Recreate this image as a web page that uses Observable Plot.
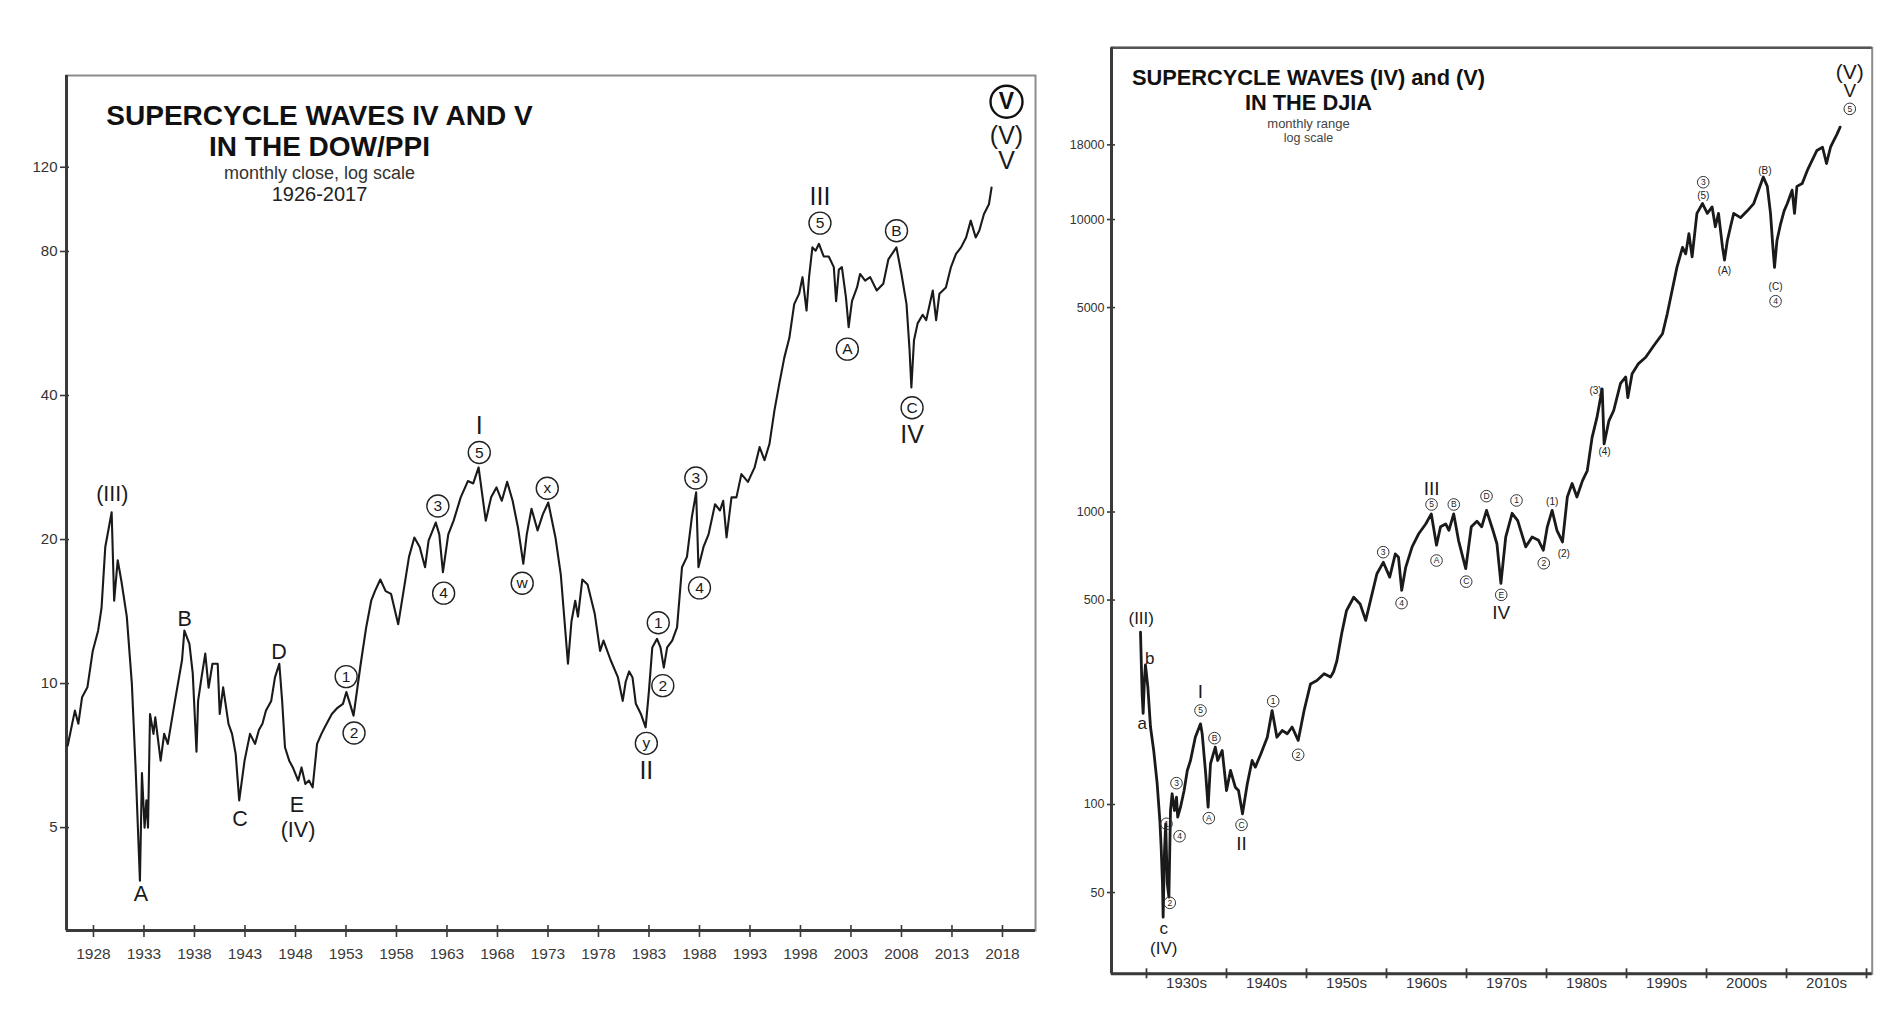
<!DOCTYPE html>
<html><head><meta charset="utf-8">
<script src="https://cdn.jsdelivr.net/npm/d3@7"></script>
<script src="https://cdn.jsdelivr.net/npm/@observablehq/plot@0.6"></script>
<style>
html,body{margin:0;padding:0;background:#fff;}
body{width:1890px;height:1022px;overflow:hidden;position:relative;font-family:"Liberation Sans",Arial,Helvetica,sans-serif;}
#left{position:absolute;left:0;top:0;}
#right{position:absolute;left:1045px;top:0;}
svg{overflow:visible;}
</style></head>
<body><div id="left"></div><div id="right"></div>
<script>
// ---------- LEFT: DOW/PPI monthly close ----------
const dowYear = [1925.45,1926.16,1926.5,1926.87,1927.4,1927.93,1928.46,1928.8,1929.17,1929.8,1930.05,1930.4,1930.76,1931.3,1931.8,1932.17,1932.6,1932.8,1933.06,1933.24,1933.4,1933.6,1933.94,1934.12,1934.65,1935.0,1935.36,1936.07,1936.77,1937.0,1937.5,1937.83,1938.2,1938.36,1938.7,1939.07,1939.4,1939.78,1940.3,1940.5,1940.84,1941.37,1941.72,1942.08,1942.43,1942.96,1943.5,1944.0,1944.38,1944.73,1945.08,1945.6,1945.97,1946.4,1946.68,1946.96,1947.38,1947.74,1948.27,1948.6,1948.98,1949.33,1949.7,1950.14,1950.57,1950.9,1951.6,1952.16,1952.7,1953.04,1953.4,1953.75,1954.46,1955.0,1955.5,1955.87,1956.4,1956.93,1957.46,1958.17,1958.7,1959.24,1959.77,1960.3,1960.83,1961.18,1961.89,1962.24,1962.6,1963.13,1963.66,1964.36,1965.07,1965.6,1966.13,1966.84,1967.37,1967.9,1968.43,1968.96,1969.5,1970.03,1970.56,1970.9,1971.37,1971.97,1972.5,1973.03,1973.74,1974.27,1974.98,1975.33,1975.7,1975.97,1976.4,1976.92,1977.63,1978.16,1978.5,1979.2,1979.93,1980.4,1980.7,1981.04,1981.37,1981.7,1982.2,1982.67,1983.0,1983.33,1983.8,1984.14,1984.47,1984.8,1985.3,1985.78,1986.27,1986.76,1987.25,1987.67,1987.9,1988.4,1988.9,1989.54,1990.03,1990.35,1990.68,1991.17,1991.66,1992.15,1992.8,1993.46,1993.95,1994.44,1994.93,1995.42,1995.9,1996.4,1996.9,1997.38,1997.87,1998.2,1998.6,1998.85,1999.18,1999.5,1999.83,2000.3,2000.8,2001.3,2001.53,2001.8,2002.1,2002.5,2002.77,2003.1,2003.6,2003.9,2004.4,2004.9,2005.55,2006.2,2006.7,2007.5,2008.0,2008.5,2008.8,2008.98,2009.24,2009.6,2010.1,2010.45,2011.1,2011.43,2011.76,2012.4,2012.9,2013.4,2013.9,2014.4,2014.86,2015.35,2015.7,2016.17,2016.66,2016.92];
const dowValue = [7.42,8.78,8.24,9.36,9.82,11.7,12.9,14.4,19.3,22.8,14.9,18.1,16.4,13.8,10.0,6.68,3.87,6.5,5.0,5.7,5.0,8.64,7.85,8.5,6.9,7.85,7.48,9.2,11.2,12.9,12.1,10.5,7.2,9.2,10.3,11.55,9.8,11.0,11.0,8.64,9.82,8.24,7.85,7.13,5.7,6.9,7.85,7.48,8.0,8.24,8.78,9.2,10.3,11.0,9.2,7.36,6.9,6.68,6.27,6.68,6.17,6.27,6.07,7.48,7.85,8.1,8.64,8.9,9.07,9.6,9.07,8.57,11.0,13.1,14.9,15.6,16.5,15.6,15.4,13.3,15.6,18.4,20.2,19.3,17.5,19.9,21.7,20.5,17.1,20.5,21.9,24.5,26.5,26.2,28.3,21.9,24.5,25.7,24.1,26.4,24.1,21.2,17.8,20.5,23.2,20.9,22.6,23.9,20.2,16.9,11.0,13.5,14.9,13.8,16.5,16.1,14.0,11.7,12.3,11.2,10.3,9.2,10.1,10.6,10.3,9.07,8.64,8.1,9.67,11.9,12.4,11.9,10.8,11.9,12.3,13.1,17.5,18.4,22.3,25.1,17.5,19.3,20.5,23.7,23.0,24.1,20.2,24.5,24.5,27.4,26.4,28.3,31.2,29.3,31.7,37.2,42.3,48.0,52.8,62.1,65.3,70.7,60.2,70.7,81.6,80.3,83.0,78.1,78.1,74.2,63,73.3,74.2,64.2,55.6,63.0,67.3,71.8,69.5,70.7,66.3,68.5,77,81.6,71.8,62.1,49.8,41.6,52.2,56.6,59.0,57.5,66.3,57.5,65.3,67.3,74.2,79.1,81.6,85.6,92.8,85.6,88.4,95.8,100.4,108.8];

const dowTicksY = [5, 10, 20, 40, 80, 120];
const dowTicksX = [1928,1933,1938,1943,1948,1953,1958,1963,1968,1973,1978,1983,1988,1993,1998,2003,2008,2013,2018];

const dowTitle1 = ["SUPERCYCLE WAVES IV AND V"];
const dowTitle2 = ["IN THE DOW/PPI"];
const dowSub1 = ["monthly close, log scale"];
const dowSub2 = ["1926-2017"];

const dowLetterText = ["(III)","A","B","C","D","E","(IV)"];
const dowLetterYear = [1929.86,1932.69,1937.04,1942.52,1946.38,1948.14,1948.25];
const dowLetterValue = [24.9,3.63,13.65,5.21,11.63,5.58,4.93];

const dowRomanText = ["I","II","III","IV","(V)","V"];
const dowRomanYear = [1966.2,1982.74,1999.93,2009.05,2018.4,2018.4];
const dowRomanValue = [34.6,6.58,103.9,33.0,139.2,123.7];

const dowCircText = ["1","2","3","4","5","w","x","y","1","2","3","4","5","A","B","C"];
const dowCircYear = [1953.02,1953.8,1962.1,1962.67,1966.2,1970.45,1972.93,1982.74,1983.92,1984.37,1987.64,1988.0,1999.93,2002.64,2007.51,2009.05];
const dowCircValue = [10.34,7.88,23.5,15.45,30.4,16.2,25.6,7.5,13.4,9.9,26.9,15.85,91.7,50.0,88.4,37.7];

const dowBigText = ["V"];
const dowBigYear = [2018.4];
const dowBigValue = [164.5];

// ---------- RIGHT: DJIA monthly range ----------
const djiaYear = [1929.25,1929.45,1929.58,1929.75,1929.87,1930.17,1930.5,1930.9,1931.33,1931.67,1931.83,1932.0,1932.08,1932.25,1932.4,1932.6,1932.8,1933.0,1933.2,1933.5,1933.75,1933.9,1934.25,1934.7,1935.1,1935.5,1936.1,1936.75,1936.96,1937.4,1937.7,1938.0,1938.6,1938.9,1939.46,1940.0,1940.5,1941.1,1941.5,1942.0,1942.6,1943.2,1943.6,1944.3,1945.1,1945.7,1946.3,1946.96,1947.6,1948.2,1948.96,1949.7,1950.5,1951.3,1952.2,1953.0,1953.4,1953.8,1954.4,1955.0,1955.9,1956.7,1957.4,1958.0,1958.8,1959.6,1960.4,1961.1,1961.5,1961.9,1962.4,1963.2,1964.0,1964.9,1965.6,1966.25,1966.75,1967.4,1967.8,1968.4,1969.0,1969.9,1970.6,1971.3,1971.9,1972.5,1973.3,1973.8,1974.3,1974.9,1975.7,1976.4,1977.4,1978.2,1979.0,1979.6,1980.1,1980.7,1981.3,1982.0,1982.6,1983.2,1983.8,1984.5,1985.1,1985.7,1986.3,1986.96,1987.2,1987.8,1988.4,1989.25,1989.9,1990.16,1990.7,1991.5,1992.4,1993.4,1994.5,1995.1,1995.7,1996.3,1997.0,1997.4,1997.8,1998.2,1998.8,1999.5,2000.1,2000.7,2001.1,2001.5,2002.0,2002.25,2002.6,2003.0,2003.4,2004.25,2005.1,2005.9,2006.5,2007.1,2007.6,2008.0,2008.3,2008.5,2008.8,2009.25,2009.7,2010.1,2010.7,2011.0,2011.3,2011.96,2012.6,2013.2,2013.8,2014.5,2015.0,2015.5,2015.9,2016.3,2016.7];
const djiaValue = [388,240,205,270,300,252,184,153,118,88,71.5,53.6,41.2,69.6,85.9,53.6,48.2,95.4,108.8,95.4,105.9,90.5,97.9,111.6,130.7,141.4,169.8,188.7,174.6,127.3,97.9,137.8,157,141.4,153,111.6,130.7,114.6,111.6,92.9,117.7,141.4,134.2,149.1,169.8,209.5,169.8,179,174.6,184,165.6,209.5,258.4,265.6,280,272.6,285,310,384,460,511,485,426,499,615,673,599,719,700,540,647,760,841,910,985,770,890,910,866,985,800,640,890,930,890,1013,866,779,570,821,990,935,760,821,800,740,890,1013,866,790,1125,1251,1125,1280,1386,1800,2101,2637,1710,2050,2224,2752,2895,2459,2967,3217,3380,3700,4070,4770,5720,6860,8030,7630,8950,7450,10500,11340,10500,11040,9450,10500,8030,7270,8460,9450,10500,10150,10710,11340,12600,13980,12980,10500,8030,6860,8460,9630,10710,11340,12600,10500,12980,13280,14720,15930,17230,17670,15540,17670,18600,19560,20700];

const djiaTicksY = [50, 100, 500, 1000, 5000, 10000, 18000];
const djiaDecadeTicks = [1930,1940,1950,1960,1970,1980,1990,2000,2010,2020];
const djiaDecadeLabels = ["1930s","1940s","1950s","1960s","1970s","1980s","1990s","2000s","2010s"];
const djiaDecadeCenters = [1935,1945,1955,1965,1975,1985,1995,2005,2015];

const djiaTitle1 = ["SUPERCYCLE WAVES (IV) and (V)"];
const djiaTitle2 = ["IN THE DJIA"];
const djiaSub1 = ["monthly range"];
const djiaSub2 = ["log scale"];

const djiaLetterText = ["(III)","b","a","c","(IV)"];
const djiaLetterYear = [1929.34,1930.41,1929.46,1932.16,1932.16];
const djiaLetterValue = [431,315,188.8,37.6,32.1];

const djiaRomanText = ["I","II","III","IV","V"];
const djiaRomanYear = [1936.75,1941.88,1965.63,1974.34,2017.91];
const djiaRomanValue = [242,73.4,1200,452,27600];

const djiaTopText = ["(V)"];
const djiaTopYear = [2017.91];
const djiaTopValue = [31880];

const djiaCircText = ["1","2","3","4","5","B","A","C","1","2","3","4","5","A","B","C","D","E","1","2","3","4","5"];
const djiaCircYear = [1932.5,1932.91,1933.75,1934.13,1936.75,1938.5,1937.79,1941.88,1945.84,1948.96,1959.59,1961.88,1965.63,1966.25,1968.41,1969.96,1972.5,1974.34,1976.25,1979.66,1999.59,2008.63,2017.91];
const djiaCircValue = [85.9,46.1,118.3,77.9,209.6,168.6,89.8,85.2,225.5,147.9,729,488,1061,682.5,1061,578,1133,521,1095,668,13413,5256,23900];

const djiaParenText = ["(1)","(2)","(3)","(4)","(5)","(A)","(B)","(C)"];
const djiaParenYear = [1980.71,1982.16,1986.13,1987.25,1999.59,2002.25,2007.29,2008.63];
const djiaParenValue = [1080,719,2588,1601,12080,6654,14710,5868];

// ---------- drawing ----------
const FONT = "'Liberation Sans', Arial, Helvetica, sans-serif";
const INK = "#1a1a1a";
const TICKINK = "#3a3a3a";

const dowData = dowYear.map((x, i) => ({x, v: dowValue[i]}));
const xDomL = [1925.33, 2021.27];
const yDomL = [3.047, 186.6];

const leftPlot = Plot.plot({
  width: 1045, height: 1022,
  marginLeft: 66, marginRight: 10, marginTop: 75, marginBottom: 92,
  style: {fontFamily: FONT, background: "white", overflow: "visible"},
  x: {domain: xDomL, axis: null},
  y: {type: "log", domain: yDomL, axis: null},
  marks: [
    Plot.frame({stroke: "#8c8c8c", strokeWidth: 2}),
    Plot.ruleX([xDomL[0]], {stroke: "#3a3a3a", strokeWidth: 3}),
    Plot.ruleY([yDomL[0]], {stroke: "#3a3a3a", strokeWidth: 3}),
    Plot.axisY({ticks: dowTicksY, tickFormat: () => "", label: null, tickSize: 9, dx: 3, color: TICKINK, strokeWidth: 1.6}),
    Plot.text(dowTicksY, {y: d => d, frameAnchor: "left", textAnchor: "end", dx: -9, text: d => String(d), fontSize: 15, fill: "#333"}),
    Plot.axisX({ticks: dowTicksX, tickFormat: d => String(d), label: null, tickSize: 12, dy: -5, tickPadding: 10, fontSize: 15.5, color: TICKINK, strokeWidth: 1.6}),
    Plot.line(dowData, {x: "x", y: "v", stroke: INK, strokeWidth: 2.1, strokeLinejoin: "round"}),
    Plot.text(dowTitle1, {frameAnchor: "top-left", dx: 253, dy: 49, textAnchor: "middle", lineAnchor: "bottom", fontSize: 28, fontWeight: "bold", fill: "#111"}),
    Plot.text(dowTitle2, {frameAnchor: "top-left", dx: 253, dy: 80, textAnchor: "middle", lineAnchor: "bottom", fontSize: 28, fontWeight: "bold", fill: "#111"}),
    Plot.text(dowSub1, {frameAnchor: "top-left", dx: 253, dy: 103, textAnchor: "middle", lineAnchor: "bottom", fontSize: 18, fill: "#333"}),
    Plot.text(dowSub2, {frameAnchor: "top-left", dx: 253, dy: 125, textAnchor: "middle", lineAnchor: "bottom", fontSize: 20, fill: "#222"}),
    Plot.text(dowLetterText, {x: dowLetterYear, y: dowLetterValue, text: d => d, fontSize: 21.5, fill: INK}),
    Plot.text(dowRomanText, {x: dowRomanYear, y: dowRomanValue, text: d => d, fontSize: 25, fill: INK}),
    Plot.dot(dowCircText, {x: dowCircYear, y: dowCircValue, r: 11, stroke: "#222", strokeWidth: 1.4, fill: "none"}),
    Plot.text(dowCircText, {x: dowCircYear, y: dowCircValue, text: d => d, fontSize: 15.5, fill: INK}),
    Plot.dot(dowBigText, {x: dowBigYear, y: dowBigValue, r: 16, stroke: "#111", strokeWidth: 2.4, fill: "none"}),
    Plot.text(dowBigText, {x: dowBigYear, y: dowBigValue, text: d => d, fontSize: 23, fontWeight: "bold", fill: "#111"})
  ]
});
document.getElementById("left").appendChild(leftPlot);

const djiaData = djiaYear.map((x, i) => ({x, v: djiaValue[i]}));
const xDomR = [1925.625, 2020.71];
const yDomR = [26.37, 38650];

const rightPlot = Plot.plot({
  width: 845, height: 1022,
  marginLeft: 66, marginRight: 18.3, marginTop: 47.3, marginBottom: 48.7,
  style: {fontFamily: FONT, background: "white", overflow: "visible"},
  x: {domain: xDomR, axis: null},
  y: {type: "log", domain: yDomR, axis: null},
  marks: [
    Plot.frame({stroke: "#8c8c8c", strokeWidth: 2}),
    Plot.ruleY([yDomR[1]], {stroke: "#555", strokeWidth: 2.4}),
    Plot.ruleX([xDomR[0]], {stroke: "#3a3a3a", strokeWidth: 3}),
    Plot.ruleY([yDomR[0]], {stroke: "#3a3a3a", strokeWidth: 3}),
    Plot.axisY({ticks: djiaTicksY, tickFormat: () => "", label: null, tickSize: 8, dx: 4, color: TICKINK, strokeWidth: 1.6}),
    Plot.text(djiaTicksY, {y: d => d, frameAnchor: "left", textAnchor: "end", dx: -7, text: d => String(d), fontSize: 12.5, fill: "#333"}),
    Plot.axisX({ticks: djiaDecadeTicks, tickFormat: () => "", label: null, tickSize: 10, dy: -5, strokeWidth: 1.8, color: TICKINK}),
    Plot.text(djiaDecadeLabels, {x: djiaDecadeCenters, frameAnchor: "bottom", dy: 14, text: d => d, fontSize: 15, fill: "#333"}),
    Plot.line(djiaData, {x: "x", y: "v", stroke: INK, strokeWidth: 2.8, strokeLinejoin: "round"}),
    Plot.text(djiaTitle1, {frameAnchor: "top-left", dx: 197, dy: 36.7, textAnchor: "middle", lineAnchor: "bottom", fontSize: 21.8, fontWeight: "bold", fill: "#111"}),
    Plot.text(djiaTitle2, {frameAnchor: "top-left", dx: 197, dy: 62, textAnchor: "middle", lineAnchor: "bottom", fontSize: 21.8, fontWeight: "bold", fill: "#111"}),
    Plot.text(djiaSub1, {frameAnchor: "top-left", dx: 197, dy: 79.7, textAnchor: "middle", lineAnchor: "bottom", fontSize: 13, fill: "#444"}),
    Plot.text(djiaSub2, {frameAnchor: "top-left", dx: 197, dy: 94.4, textAnchor: "middle", lineAnchor: "bottom", fontSize: 12.5, fill: "#444"}),
    Plot.text(djiaLetterText, {x: djiaLetterYear, y: djiaLetterValue, text: d => d, fontSize: 17, fill: INK}),
    Plot.text(djiaRomanText, {x: djiaRomanYear, y: djiaRomanValue, text: d => d, fontSize: 19, fill: INK}),
    Plot.text(djiaTopText, {x: djiaTopYear, y: djiaTopValue, text: d => d, fontSize: 21, fill: INK}),
    Plot.dot(djiaCircText, {x: djiaCircYear, y: djiaCircValue, r: 5.8, stroke: "#333", strokeWidth: 1, fill: "none"}),
    Plot.text(djiaCircText, {x: djiaCircYear, y: djiaCircValue, text: d => d, fontSize: 8.5, fill: "#222"}),
    Plot.text(djiaParenText, {x: djiaParenYear, y: djiaParenValue, text: d => d, fontSize: 10, fill: "#222"})
  ]
});
document.getElementById("right").appendChild(rightPlot);
</script>
</body></html>
